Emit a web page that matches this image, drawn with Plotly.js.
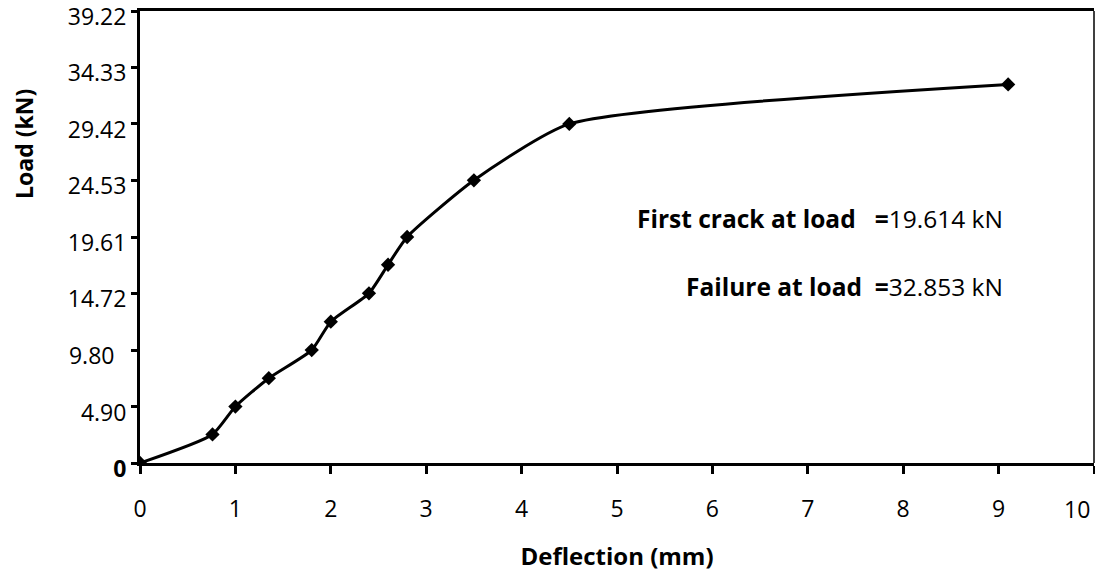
<!DOCTYPE html>
<html>
<head>
<meta charset="utf-8">
<script src="https://cdn.plot.ly/plotly-3.0.1.min.js"></script>
<style>
html,body{margin:0;padding:0;background:#fff;}
#chart{width:1095px;height:580px;}
</style>
</head>
<body>
<div id="chart"></div>
<script>
// Data
const deflection = [0, 0.76, 1.0, 1.35, 1.8, 2.0, 2.4, 2.6, 2.8, 3.5, 4.5, 9.1];
const load = [0, 2.48, 4.90, 7.36, 9.80, 12.26, 14.72, 17.2, 19.61, 24.53, 29.42, 32.853];

const yTickValues = [0, 4.90, 9.80, 14.72, 19.61, 24.53, 29.42, 34.33, 39.22];
const yTickLabels = ["<b>0</b>", "4.90", "9.80&nbsp;&nbsp;", "14.72", "19.61", "24.53", "29.42", "34.33", "39.22"];
const xTickValues = [0, 1, 2, 3, 4, 5, 6, 7, 8, 9, 10];
const xTickLabels = ["0", "1", "2", "3", "4", "5", "6", "7", "8", "9", "10"];

const firstCrackLoad = "19.614";
const failureLoad = "32.853";

const FONT = "Open Sans, sans-serif";

// the last x tick label sits at the right edge; draw it right-aligned so it stays inside
const lastIdx = xTickValues.length - 1;
const xAxisText = xTickLabels.map((t, i) => (i === lastIdx ? "" : t));

const trace = {
  x: deflection,
  y: load,
  type: "scatter",
  mode: "lines+markers",
  line: {color: "#000", width: 3, shape: "spline", smoothing: 0.55},
  marker: {symbol: "diamond", size: 11, color: "#000"},
  hoverinfo: "skip",
  showlegend: false
};

const layout = {
  width: 1095,
  height: 580,
  margin: {l: 140, r: 1, t: 11, b: 117, pad: 0},
  paper_bgcolor: "#fff",
  plot_bgcolor: "#fff",
  font: {family: FONT, color: "#000"},
  xaxis: {
    range: [0, 10],
    tickvals: xTickValues,
    ticktext: xAxisText,
    ticks: "outside",
    ticklen: 8,
    tickwidth: 3,
    tickcolor: "#000",
    ticklabeloverflow: "allow",
    ticklabelstandoff: 15,
    showline: true,
    linewidth: 3,
    linecolor: "#000",
    mirror: true,
    showgrid: false,
    zeroline: false,
    tickfont: {family: FONT, size: 23, color: "#000"},
    title: {text: "<b>Deflection (mm)</b>", font: {family: FONT, size: 24, color: "#000"}, standoff: 26},
    automargin: false,
    fixedrange: true
  },
  yaxis: {
    range: [0, 39.22],
    tickvals: yTickValues,
    ticktext: yTickLabels,
    ticks: "outside",
    ticklen: 6,
    tickwidth: 3,
    tickcolor: "#000",
    ticklabeloverflow: "allow",
    ticklabelshift: 6,
    showline: true,
    linewidth: 3,
    linecolor: "#000",
    showgrid: false,
    zeroline: false,
    tickfont: {family: FONT, size: 23, color: "#000"},
    automargin: false,
    fixedrange: true
  },
  shapes: [
    {type: "line", xref: "paper", yref: "paper", x0: 1, x1: 1, y0: 0, y1: 1,
     line: {color: "#000", width: 1.5}}
  ],
  annotations: [
    {xref: "x", yref: "paper", x: xTickValues[lastIdx], y: 0, xanchor: "right", yanchor: "top",
     yshift: -28, xshift: -2, showarrow: false, font: {family: FONT, size: 23, color: "#000"},
     text: xTickLabels[lastIdx]},
    {xref: "paper", yref: "paper", x: -0.1216, y: 0.706, xanchor: "center", yanchor: "middle",
     textangle: -90, showarrow: false, font: {family: FONT, size: 23, color: "#000"},
     text: "<b>Load (kN)</b>"},
    {xref: "paper", yref: "paper", x: 0.9067, y: 0.54, xanchor: "right", yanchor: "middle",
     showarrow: false, font: {family: FONT, size: 24.5, color: "#000"},
     text: "<b>First crack at load&nbsp;&nbsp;&nbsp;=</b>" + firstCrackLoad + " kN"},
    {xref: "paper", yref: "paper", x: 0.9067, y: 0.39, xanchor: "right", yanchor: "middle",
     showarrow: false, font: {family: FONT, size: 24.5, color: "#000"},
     text: "<b>Failure at load&nbsp;&nbsp;=</b>" + failureLoad + " kN"}
  ]
};

Plotly.newPlot("chart", [trace], layout, {displayModeBar: false, staticPlot: true});
</script>
</body>
</html>
